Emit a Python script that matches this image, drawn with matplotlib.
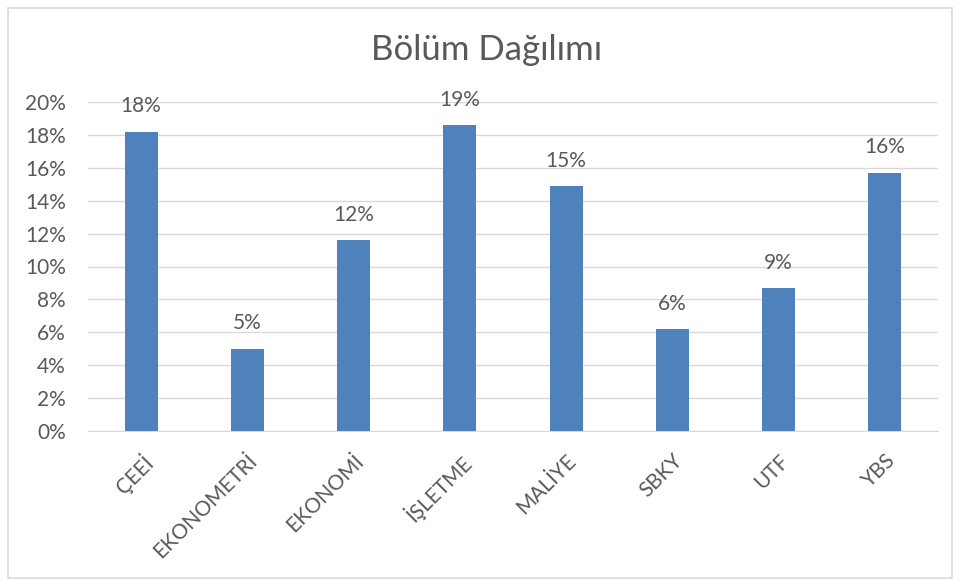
import matplotlib
matplotlib.use("Agg")
import matplotlib.pyplot as plt
import matplotlib.transforms as mtransforms
from matplotlib.patches import Rectangle

categories = ["ÇEEİ", "EKONOMETRİ", "EKONOMİ", "İŞLETME", "MALİYE", "SBKY", "UTF", "YBS"]
values = [0.182, 0.050, 0.116, 0.186, 0.149, 0.062, 0.087, 0.157]
yticks = [0, 0.02, 0.04, 0.06, 0.08, 0.10, 0.12, 0.14, 0.16, 0.18, 0.20]
title = "Bölüm Dağılımı"

plt.rcParams['font.family'] = ['Lato', 'DejaVu Sans']
txt = '#595959'

fig = plt.figure(figsize=(9.6, 5.81), dpi=100)
fig.patches.append(Rectangle((8/960, 3/581), 944/960, 570/581, transform=fig.transFigure,
                             fill=False, edgecolor='#D9D9D9', linewidth=1.2))
ax = fig.add_axes([88/960, 1-431/581, 850/960, 329/581])
x = range(len(categories))
bars = ax.bar(x, values, width=0.31, color='#4F81BD', zorder=3)
ax.set_xlim(-0.5, len(categories)-0.5)
ax.set_ylim(0, 0.20)
ax.set_yticks(yticks)
ax.set_yticklabels([f"{int(round(t*100))}%" for t in yticks], fontsize=15, color=txt)
ax.grid(axis='y', color='#D9D9D9', linewidth=1, zorder=0)
ax.set_xticks(list(x))
ax.set_xticklabels(categories, rotation=45, ha='right', rotation_mode='anchor', fontsize=15, color=txt)
off = mtransforms.ScaledTranslation(-4/100, 2/100, fig.dpi_scale_trans)
for lbl in ax.get_xticklabels():
    lbl.set_transform(lbl.get_transform() + off)
for s in ['top', 'right', 'left']:
    ax.spines[s].set_visible(False)
ax.spines['bottom'].set_color('#D9D9D9')
ax.tick_params(axis='both', length=0)
ax.tick_params(axis='x', pad=14)
ax.tick_params(axis='y', pad=16)
for b, v in zip(bars, values):
    ax.annotate(f"{int(round(v*100))}%", (b.get_x()+b.get_width()/2, v), xytext=(0, 11),
                textcoords='offset points', ha='center', va='bottom', fontsize=15, color=txt,
                annotation_clip=False)
fig.text(487/960, 1-50/581, title, ha='center', va='center', fontsize=25, color=txt)
fig.savefig("out.png", dpi=100)
